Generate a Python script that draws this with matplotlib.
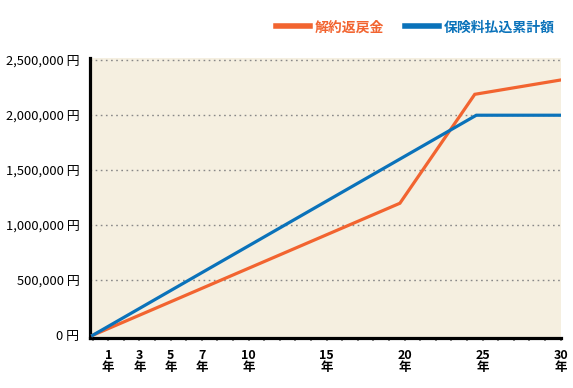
import matplotlib.pyplot as plt
from matplotlib.ticker import FixedLocator, MultipleLocator

plt.rcParams['font.family'] = ['Noto Sans CJK JP', 'DejaVu Sans']

# data (years, yen)
refund_years = [0, 19.7, 24.5, 30]
refund_values = [0, 1200000, 2190000, 2320000]
paid_years = [0, 24.6, 30]
paid_values = [0, 2000000, 2000000]

year_labels = [1, 3, 5, 7, 10, 15, 20, 25, 30]
yen_ticks = [0, 500000, 1000000, 1500000, 2000000, 2500000]

orange = '#F26430'
blue = '#0A72BA'

fig = plt.figure(figsize=(5.73, 3.88), dpi=100)
ax = fig.add_axes([89.7 / 573, 50.5 / 388, 471.3 / 573, 279.5 / 388])
ax.set_facecolor('#F5EFE0')

ax.plot(refund_years, refund_values, color=orange, lw=2.3, label='解約返戻金',
        solid_joinstyle='miter', zorder=3)
ax.plot(paid_years, paid_values, color=blue, lw=2.3, label='保険料払込累計額',
        solid_joinstyle='miter', zorder=3)

ax.set_xlim(-0.19, 30.03)
ax.set_ylim(-20000, 2520000)

# y axis
ax.yaxis.set_major_locator(FixedLocator(yen_ticks))
ax.set_yticklabels([f'{v:,} 円' for v in yen_ticks], fontsize=9.3)
ax.tick_params(axis='y', length=0, pad=7.5)
for v in yen_ticks[1:]:
    ax.axhline(v, color='#888888', lw=1, ls=(0, (1.2, 2.5)), zorder=1)

# x axis
ax.xaxis.set_major_locator(FixedLocator(year_labels))
ax.xaxis.set_minor_locator(MultipleLocator(1))
ax.set_xticklabels([f'{y}\n年' for y in year_labels], fontsize=9,
                   linespacing=0.9, fontweight='bold')
ax.tick_params(axis='x', which='both', length=2.5, width=1.2, color='#777777', pad=6)

for side in ['top', 'right']:
    ax.spines[side].set_visible(False)
for side in ['left', 'bottom']:
    ax.spines[side].set_linewidth(2.3)
    ax.spines[side].set_color('black')

leg = ax.legend(loc='lower right', bbox_to_anchor=(0.998, 1.065), ncol=2, frameon=False,
                prop={'size': 10, 'weight': 'bold'}, handlelength=2.4,
                handletextpad=0.35, columnspacing=1.55, borderaxespad=0)
for line in leg.get_lines():
    line.set_linewidth(4)
for text, c in zip(leg.get_texts(), [orange, blue]):
    text.set_color(c)

fig.savefig('out.png', dpi=100)
